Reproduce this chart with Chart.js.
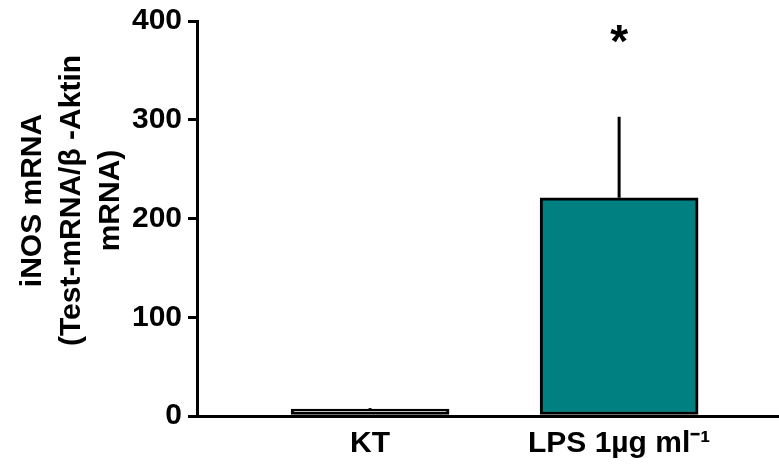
<!DOCTYPE html>
<html>
<head>
<meta charset="utf-8">
<script src="https://cdn.jsdelivr.net/npm/chart.js@4"></script>
<style>
  html, body { margin: 0; padding: 0; background: #fff; }
  #wrap { width: 779px; height: 465px; position: relative; }
</style>
</head>
<body>
<div id="wrap"><canvas id="grafica"></canvas></div>
<script>
// datos
const categorias = ['KT', 'LPS 1µg ml⁻¹'];
const medias = [7, 221];
const errores = [1, 82];
const significancia = ['', '*'];
const colores = ['#ffffff', '#008080'];
const ticksY = [0, 100, 200, 300, 400];
const tituloY = ['iNOS mRNA', '(Test-mRNA/β -Aktin', 'mRNA)'];

const fuente = "'Liberation Sans', Arial, sans-serif";

// barras de error (solo hacia arriba) y asteriscos
const errorPlugin = {
  id: 'errorBars',
  afterDatasetsDraw(chart) {
    const ctx = chart.ctx;
    const meta = chart.getDatasetMeta(0);
    const y = chart.scales.y;
    ctx.save();
    ctx.strokeStyle = '#000';
    ctx.lineWidth = 3;
    meta.data.forEach((bar, i) => {
      const top = y.getPixelForValue(medias[i] + errores[i]);
      const base = y.getPixelForValue(medias[i]);
      ctx.beginPath();
      ctx.moveTo(bar.x, base);
      ctx.lineTo(bar.x, top);
      ctx.stroke();
      if (significancia[i]) {
        ctx.fillStyle = '#000';
        ctx.font = 'bold 46px ' + fuente;
        ctx.textAlign = 'center';
        ctx.textBaseline = 'middle';
        ctx.fillText(significancia[i], bar.x, y.getPixelForValue(376));
      }
    });
    ctx.restore();
  }
};

// titulo del eje Y en tres lineas, un poco por encima del centro
const tituloPlugin = {
  id: 'tituloY',
  afterDraw(chart) {
    const ctx = chart.ctx;
    const area = chart.chartArea;
    const centroY = (area.top + area.bottom) / 2 - 18;
    ctx.save();
    ctx.fillStyle = '#000';
    ctx.font = 'bold 30px ' + fuente;
    ctx.textAlign = 'center';
    ctx.textBaseline = 'middle';
    tituloY.forEach((linea, i) => {
      ctx.save();
      ctx.translate(33 + i * 39, centroY);
      ctx.rotate(-Math.PI / 2);
      ctx.fillText(linea, 0, 0);
      ctx.restore();
    });
    ctx.restore();
  }
};

new Chart(document.getElementById('grafica'), {
  type: 'bar',
  data: {
    datasets: [{
      data: medias.map((v, i) => ({ x: i + 1, y: v })),
      backgroundColor: colores,
      borderColor: '#000',
      borderWidth: 3,
      borderSkipped: false,
      barThickness: 158
    }]
  },
  options: {
    responsive: true,
    maintainAspectRatio: false,
    animation: false,
    layout: { padding: { top: 21, right: 0, left: 0, bottom: 0 } },
    plugins: {
      legend: { display: false },
      tooltip: { enabled: false }
    },
    scales: {
      x: {
        type: 'linear',
        offset: false,
        min: 0.305,
        max: 2.642,
        afterBuildTicks: (scale) => {
          scale.ticks = categorias.map((c, i) => ({ value: i + 1 }));
        },
        afterFit: (scale) => { scale.height = 49; },
        grid: { display: true, drawOnChartArea: false, drawTicks: false },
        border: { color: '#000', width: 3 },
        ticks: {
          color: '#000',
          padding: 10,
          maxRotation: 0,
          autoSkip: false,
          font: { family: fuente, size: 30, weight: 'bold' },
          callback: (v) => categorias[v - 1] || ''
        }
      },
      y: {
        min: 0,
        max: 400,
        afterBuildTicks: (scale) => {
          scale.ticks = ticksY.map(v => ({ value: v }));
        },
        afterFit: (scale) => { scale.width = 197; },
        grid: {
          drawOnChartArea: false,
          drawTicks: true,
          tickLength: 9,
          lineWidth: 3,
          color: '#000'
        },
        border: { color: '#000', width: 3 },
        ticks: {
          color: '#000',
          padding: 6,
          font: { family: fuente, size: 30, weight: 'bold', lineHeight: 1 }
        }
      }
    }
  },
  plugins: [errorPlugin, tituloPlugin]
});
</script>
</body>
</html>
